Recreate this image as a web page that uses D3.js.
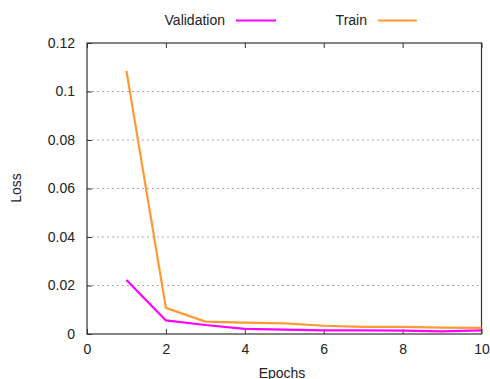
<!DOCTYPE html>
<html><head><meta charset="utf-8">
<script src="https://cdn.jsdelivr.net/npm/d3@7"></script>
<style>body{margin:0;background:#fff}svg{display:block}text{font-family:"Liberation Sans",Arial,sans-serif;fill:#222}</style>
</head><body>
<svg id="c" width="490" height="379"></svg>
<script>
const epochs = [1,2,3,4,5,6,7,8,9,10];
const validation = [0.0223,0.0056,0.0037,0.0021,0.0018,0.0015,0.0015,0.0014,0.0011,0.0015];
const train = [0.1085,0.0108,0.0051,0.0047,0.0044,0.0034,0.0029,0.0029,0.0026,0.0025];
const xTicks = [0,2,4,6,8,10];
const yTicks = [0,0.02,0.04,0.06,0.08,0.1,0.12];
const seriesNames = ["Validation","Train"];
const colors = ["#ff00ff","#ff9933"];

const svg = d3.select("#c");
const L=87,R=481.5,T=43,B=334;
const x = d3.scaleLinear().domain([0,10]).range([L,R]);
const y = d3.scaleLinear().domain([0,0.12]).range([B,T]);

// grid
svg.append("g").selectAll("line").data(yTicks.filter(d=>d>0&&d<0.12)).join("line")
  .attr("x1",L).attr("x2",R).attr("y1",d=>y(d)).attr("y2",d=>y(d))
  .attr("stroke","#aaa").attr("stroke-width",1).attr("stroke-dasharray","2,3");

// axes with inward ticks
const fmt = d=>String(+d.toFixed(2));
const gx = svg.append("g").attr("transform",`translate(0,${B})`)
  .call(d3.axisBottom(x).tickValues(xTicks).tickSize(-5).tickPadding(10).tickFormat(d=>d));
const gy = svg.append("g").attr("transform",`translate(${L},0)`)
  .call(d3.axisLeft(y).tickValues(yTicks).tickSize(-5).tickPadding(12).tickFormat(fmt));
const gt = svg.append("g").attr("transform",`translate(0,${T})`)
  .call(d3.axisTop(x).tickValues(xTicks).tickSize(-5).tickFormat(""));
[gx,gy,gt].forEach(g=>{
  g.select(".domain").remove();
  g.selectAll(".tick line").attr("stroke","#333");
  g.selectAll("text").attr("font-size",14).attr("fill","#222").style("font-family","Liberation Sans, Arial, sans-serif");
});
svg.append("rect").attr("x",L).attr("y",T).attr("width",R-L).attr("height",B-T)
  .attr("fill","none").attr("stroke","#333").attr("stroke-width",1.2);

// lines
const line = vals => d3.line().x((d,i)=>x(epochs[i])).y(d=>y(d))(vals);
[validation,train].forEach((vals,k)=>{
  svg.append("path").attr("d",line(vals)).attr("fill","none")
    .attr("stroke",colors[k]).attr("stroke-width",2.2).attr("stroke-linejoin","miter");
});

// legend
const leg = [{tx:225,lx1:236,lx2:276},{tx:367,lx1:378,lx2:417}];
leg.forEach((p,k)=>{
  svg.append("text").attr("x",p.tx).attr("y",25).attr("text-anchor","end")
    .attr("font-size",14).text(seriesNames[k]);
  svg.append("line").attr("x1",p.lx1).attr("x2",p.lx2).attr("y1",20.5).attr("y2",20.5)
    .attr("stroke",colors[k]).attr("stroke-width",2.2);
});

// axis titles
svg.append("text").attr("x",282).attr("y",378).attr("text-anchor","middle").attr("font-size",14).text("Epochs");
svg.append("text").attr("transform","translate(21,188) rotate(-90)").attr("text-anchor","middle").attr("font-size",14).text("Loss");
</script>
</body></html>
